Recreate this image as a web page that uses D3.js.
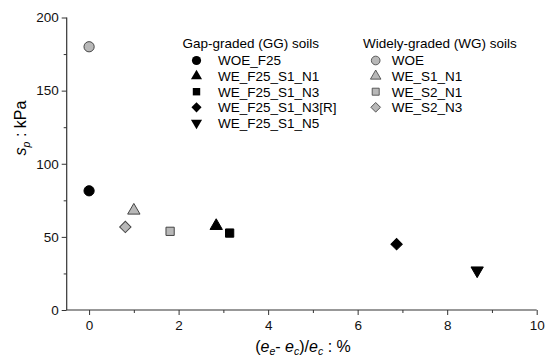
<!DOCTYPE html>
<html><head><meta charset="utf-8">
<script src="https://cdn.jsdelivr.net/npm/d3@7"></script>
<style>body{margin:0;background:#fff}svg{display:block;font-family:"Liberation Sans",Arial,sans-serif}</style>
</head><body><svg id="c" width="552" height="358"></svg>
<script>
const xTicks = [0, 2, 4, 6, 8, 10];
const yTicks = [0, 50, 100, 150, 200];
const ggNames = ["WOE_F25", "WE_F25_S1_N1", "WE_F25_S1_N3", "WE_F25_S1_N3[R]", "WE_F25_S1_N5"];
const ggShapes = ["circle", "triangle", "square", "diamond", "triangleDown"];
const ggX = [0, 2.84, 3.14, 6.87, 8.67];
const ggY = [81.5, 57.5, 52.6, 45, 27];
const wgNames = ["WOE", "WE_S1_N1", "WE_S2_N1", "WE_S2_N3"];
const wgShapes = ["circle", "triangle", "square", "diamond"];
const wgX = [0, 1.0, 1.81, 0.81];
const wgY = [180, 68, 53.8, 56.8];

const svg = d3.select("#c");
const x = d3.scaleLinear().domain([-0.5, 10]).range([66.7, 536.7]);
const y = d3.scaleLinear().domain([0, 200]).range([310, 17.5]);

function sym(shape) {
  if (shape === "circle") return {p: d3.symbol(d3.symbolCircle, 82)(), r: 0};
  if (shape === "triangle") return {p: d3.symbol(d3.symbolTriangle, 66)(), r: 0};
  if (shape === "triangleDown") return {p: d3.symbol(d3.symbolTriangle, 66)(), r: 180};
  if (shape === "square") return {p: d3.symbol(d3.symbolSquare, 68)(), r: 0};
  if (shape === "diamond") return {p: d3.symbol(d3.symbolSquare, 64)(), r: 45};
}

// axes
const fs = 13.5;
const xAxis = d3.axisBottom(x).tickValues(xTicks).tickSize(5).tickPadding(5).tickFormat(d3.format("d"));
const gx = svg.append("g").attr("transform", "translate(0,310)").call(xAxis);
const xMinor = d3.axisBottom(x).tickValues([1,3,5,7,9]).tickSize(3).tickFormat("");
svg.append("g").attr("transform", "translate(0,310)").call(xMinor).select(".domain").remove();
const yAxis = d3.axisLeft(y).tickValues(yTicks).tickSize(5).tickPadding(3);
const gy = svg.append("g").attr("transform", "translate(66.7,0)").call(yAxis);
const yMinor = d3.axisLeft(y).tickValues([25,75,125,175]).tickSize(3).tickFormat("");
svg.append("g").attr("transform", "translate(66.7,0)").call(yMinor).select(".domain").remove();
svg.selectAll(".domain").attr("stroke", "#333").attr("stroke-width", 1.2);
svg.selectAll(".tick line").attr("stroke", "#333");
svg.selectAll(".tick text").attr("font-size", fs).attr("font-family", "Liberation Sans, Arial").attr("fill", "#111");
gx.select(".domain").attr("d", `M${x(-0.5)},0H${x(10)}`);
gy.select(".domain").attr("d", `M0,${y(0)}V${y(200)}`);

// points
function drawPts(xs, ys, shapes, fill, stroke) {
  xs.forEach((v, i) => {
    const s = sym(shapes[i]);
    svg.append("path").attr("d", s.p)
      .attr("transform", `translate(${x(v)},${y(ys[i])}) rotate(${s.r})`)
      .attr("fill", fill).attr("stroke", stroke).attr("stroke-width", 1);
  });
}
drawPts(wgX, wgY, wgShapes, "#b8b8b8", "#444");
drawPts(ggX, ggY, ggShapes, "#000", "#000");

// legend
const lf = 13.5;
const rowY = i => 60.5 + i * 15.6;
svg.append("text").attr("x", 182.5).attr("y", 48).attr("font-size", lf).text("Gap-graded (GG) soils");
svg.append("text").attr("x", 363).attr("y", 48).attr("font-size", lf).text("Widely-graded (WG) soils");
ggNames.forEach((n, i) => {
  const s = sym(ggShapes[i]);
  svg.append("path").attr("d", s.p).attr("transform", `translate(196.5,${rowY(i)}) rotate(${s.r}) scale(0.9)`).attr("fill", "#000");
  svg.append("text").attr("x", 218).attr("y", rowY(i) + 4.8).attr("font-size", lf).text(n);
});
wgNames.forEach((n, i) => {
  const s = sym(wgShapes[i]);
  svg.append("path").attr("d", s.p).attr("transform", `translate(375.7,${rowY(i)}) rotate(${s.r}) scale(0.85)`).attr("fill", "#b8b8b8").attr("stroke", "#444").attr("stroke-width", 1);
  svg.append("text").attr("x", 391.7).attr("y", rowY(i) + 4.8).attr("font-size", lf).text(n);
});

// axis titles
const yl = svg.append("text").attr("transform", "translate(26,128) rotate(-90)").attr("text-anchor", "middle").attr("font-size", 16);
yl.append("tspan").attr("font-style", "italic").text("s");
yl.append("tspan").attr("font-style", "italic").attr("font-size", 10.5).attr("dy", 3.5).text("p");
yl.append("tspan").attr("dy", -3.5).text(" : kPa");

const xl = svg.append("text").attr("x", 303).attr("y", 351.7).attr("text-anchor", "middle").attr("font-size", 16);
xl.append("tspan").text("(");
xl.append("tspan").attr("font-style", "italic").text("e");
xl.append("tspan").attr("font-style", "italic").attr("font-size", 10.5).attr("dy", 3.5).text("e");
xl.append("tspan").attr("dy", -3.5).text("- ");
xl.append("tspan").attr("font-style", "italic").text("e");
xl.append("tspan").attr("font-style", "italic").attr("font-size", 10.5).attr("dy", 3.5).text("c");
xl.append("tspan").attr("dy", -3.5).text(")/");
xl.append("tspan").attr("font-style", "italic").text("e");
xl.append("tspan").attr("font-style", "italic").attr("font-size", 10.5).attr("dy", 3.5).text("c");
xl.append("tspan").attr("dy", -3.5).text(" : %");
</script></body></html>
